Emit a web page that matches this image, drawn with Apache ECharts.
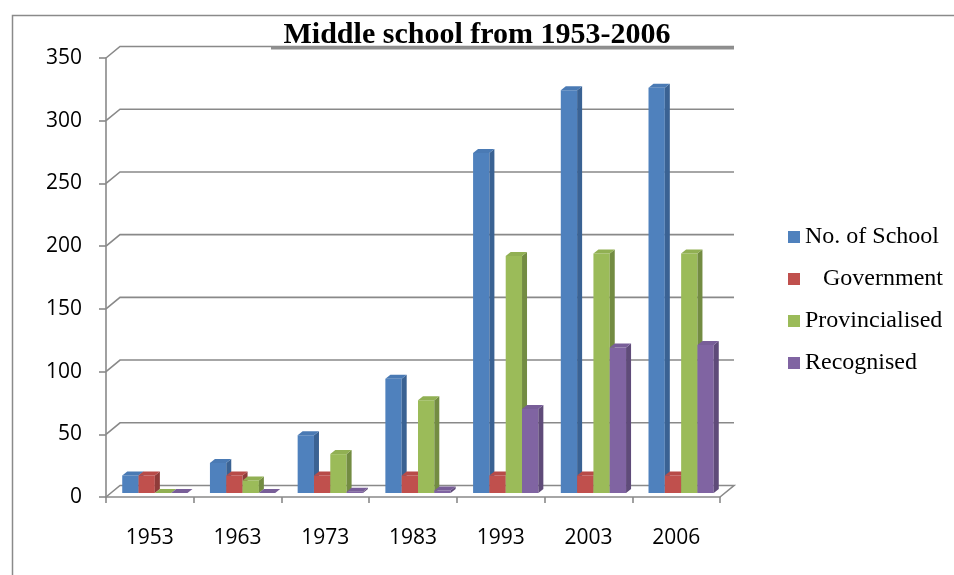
<!DOCTYPE html>
<html>
<head>
<meta charset="utf-8">
<script src="https://cdn.jsdelivr.net/npm/echarts@6/dist/echarts.min.js"></script>
<style>
  html, body { margin: 0; padding: 0; background: #fff; }
  #chart { width: 954px; height: 575px; }
</style>
</head>
<body>
<div id="chart"></div>
<script>
// Middle schools by category, 1953-2006
const years = ['1953', '1963', '1973', '1983', '1993', '2003', '2006'];
const noOfSchool = [14, 24, 46, 91, 271, 321, 323];
const government = [14, 14, 14, 14, 14, 14, 14];
const provincialised = [0, 10, 31, 74, 189, 191, 191];
const recognised = [0, 0, 1, 2, 67, 116, 118];
const yTicks = [0, 50, 100, 150, 200, 250, 300, 350];

const seriesNames = ['No. of School', '   Government', 'Provincialised', 'Recognised'];
const seriesValues = [noOfSchool, government, provincialised, recognised];
const palette = [
  { front: '#4F81BD', side: '#3A6293', top: '#4A7AB4' },
  { front: '#C0504D', side: '#8F3C3A', top: '#B84B48' },
  { front: '#9BBB59', side: '#738C42', top: '#91B053' },
  { front: '#8064A2', side: '#5F4B79', top: '#785E98' }
];

// pseudo-3D geometry (pixels)
const WALL_DX = 14, WALL_DY = 11.5;   // depth of the floor / back wall
const BAR_DX = 5, BAR_DY = 4;         // thickness of each column
const BAR_SHIFT_X = 5, BAR_SHIFT_Y = 4; // columns stand slightly behind the front edge
const BAR_FRAC = 0.186;               // column width as a share of the category band
const LINE = '#898989';

function gridRenderer(params, api) {
  const cs = params.coordSys;
  const v = api.value(1);
  const y = api.coord([0, v])[1];
  const left = cs.x, right = cs.x + cs.width;
  const pts = [[left, y], [left + WALL_DX, y - WALL_DY], [right + WALL_DX, y - WALL_DY]];
  if (v === 0) pts.push([right, y]);
  return {
    type: 'polyline',
    shape: { points: pts },
    style: { stroke: LINE, lineWidth: 1.6, fill: null }
  };
}

function barRenderer(slot, c) {
  return function (params, api) {
    const idx = api.value(0);
    const v = api.value(1);
    const base = api.coord([idx, 0]);
    const top = api.coord([idx, v]);
    const band = api.size([1, 0])[0];
    const w = band * BAR_FRAC;
    const x0 = base[0] - 2 * w + slot * w + BAR_SHIFT_X;
    const x1 = x0 + w;
    const yb = base[1] - BAR_SHIFT_Y;
    const yt = top[1] - BAR_SHIFT_Y;
    return {
      type: 'group',
      children: [
        { type: 'rect', shape: { x: x0, y: yt, width: w, height: yb - yt },
          style: { fill: c.front } },
        { type: 'polygon', shape: { points: [[x1, yt], [x1 + BAR_DX, yt - BAR_DY], [x1 + BAR_DX, yb - BAR_DY], [x1, yb]] },
          style: { fill: c.side } },
        { type: 'polygon', shape: { points: [[x0, yt], [x0 + BAR_DX, yt - BAR_DY], [x1 + BAR_DX, yt - BAR_DY], [x1, yt]] },
          style: { fill: c.top } }
      ]
    };
  };
}

const series = [{
  type: 'custom',
  name: 'gridlines',
  silent: true,
  z: 1,
  renderItem: gridRenderer,
  data: yTicks.map(v => [0, v])
}];
seriesValues.forEach((vals, i) => {
  series.push({
    type: 'custom',
    name: seriesNames[i],
    z: 2,
    itemStyle: { color: palette[i].front },
    renderItem: barRenderer(i, palette[i]),
    encode: { x: 0, y: 1 },
    data: vals.map((v, k) => [k, v])
  });
});

const chart = echarts.init(document.getElementById('chart'), null, { renderer: 'canvas' });
chart.setOption({
  animation: false,
  backgroundColor: '#fff',
  title: {
    text: 'Middle school from 1953-2006',
    left: 'center',
    top: 15,
    textStyle: { fontFamily: 'Liberation Serif', fontWeight: 'bold', fontSize: 30, color: '#000' }
  },
  legend: {
    orient: 'vertical',
    left: 783,
    top: 220,
    itemWidth: 12,
    itemHeight: 12,
    itemGap: 18,
    icon: 'rect',
    data: seriesNames,
    textStyle: { fontFamily: 'Liberation Serif', fontSize: 24, color: '#000', lineHeight: 24 }
  },
  grid: { left: 106, right: 234, top: 58, bottom: 78 },
  xAxis: {
    type: 'category',
    data: years,
    boundaryGap: true,
    axisLine: { lineStyle: { color: LINE, width: 1.6 } },
    axisTick: { show: true, length: 6, interval: 0, lineStyle: { color: LINE, width: 1.6 } },
    axisLabel: { margin: 31, fontFamily: 'Open Sans', fontSize: 21, color: '#000' },
    splitLine: { show: false }
  },
  yAxis: {
    type: 'value',
    min: 0,
    max: 350,
    interval: 50,
    axisLine: { show: true, lineStyle: { color: LINE, width: 1.6 } },
    axisTick: { show: true, length: 7, lineStyle: { color: LINE, width: 1.6 } },
    axisLabel: { margin: 24, fontFamily: 'Open Sans', fontSize: 21, color: '#000' },
    splitLine: { show: false }
  },
  graphic: [{
    type: 'rect',
    left: 10, top: 13,
    shape: { width: 1000, height: 1000 },
    style: { fill: null, stroke: '#8a8a8a', lineWidth: 1.5 },
    silent: true
  }, {
    // shaded lower edge of the title box
    type: 'line',
    shape: { x1: 271, y1: 48, x2: 734, y2: 48 },
    style: { stroke: '#8f8f8f', lineWidth: 3 },
    z: 5,
    silent: true
  }],
  series: series
});
</script>
</body>
</html>
